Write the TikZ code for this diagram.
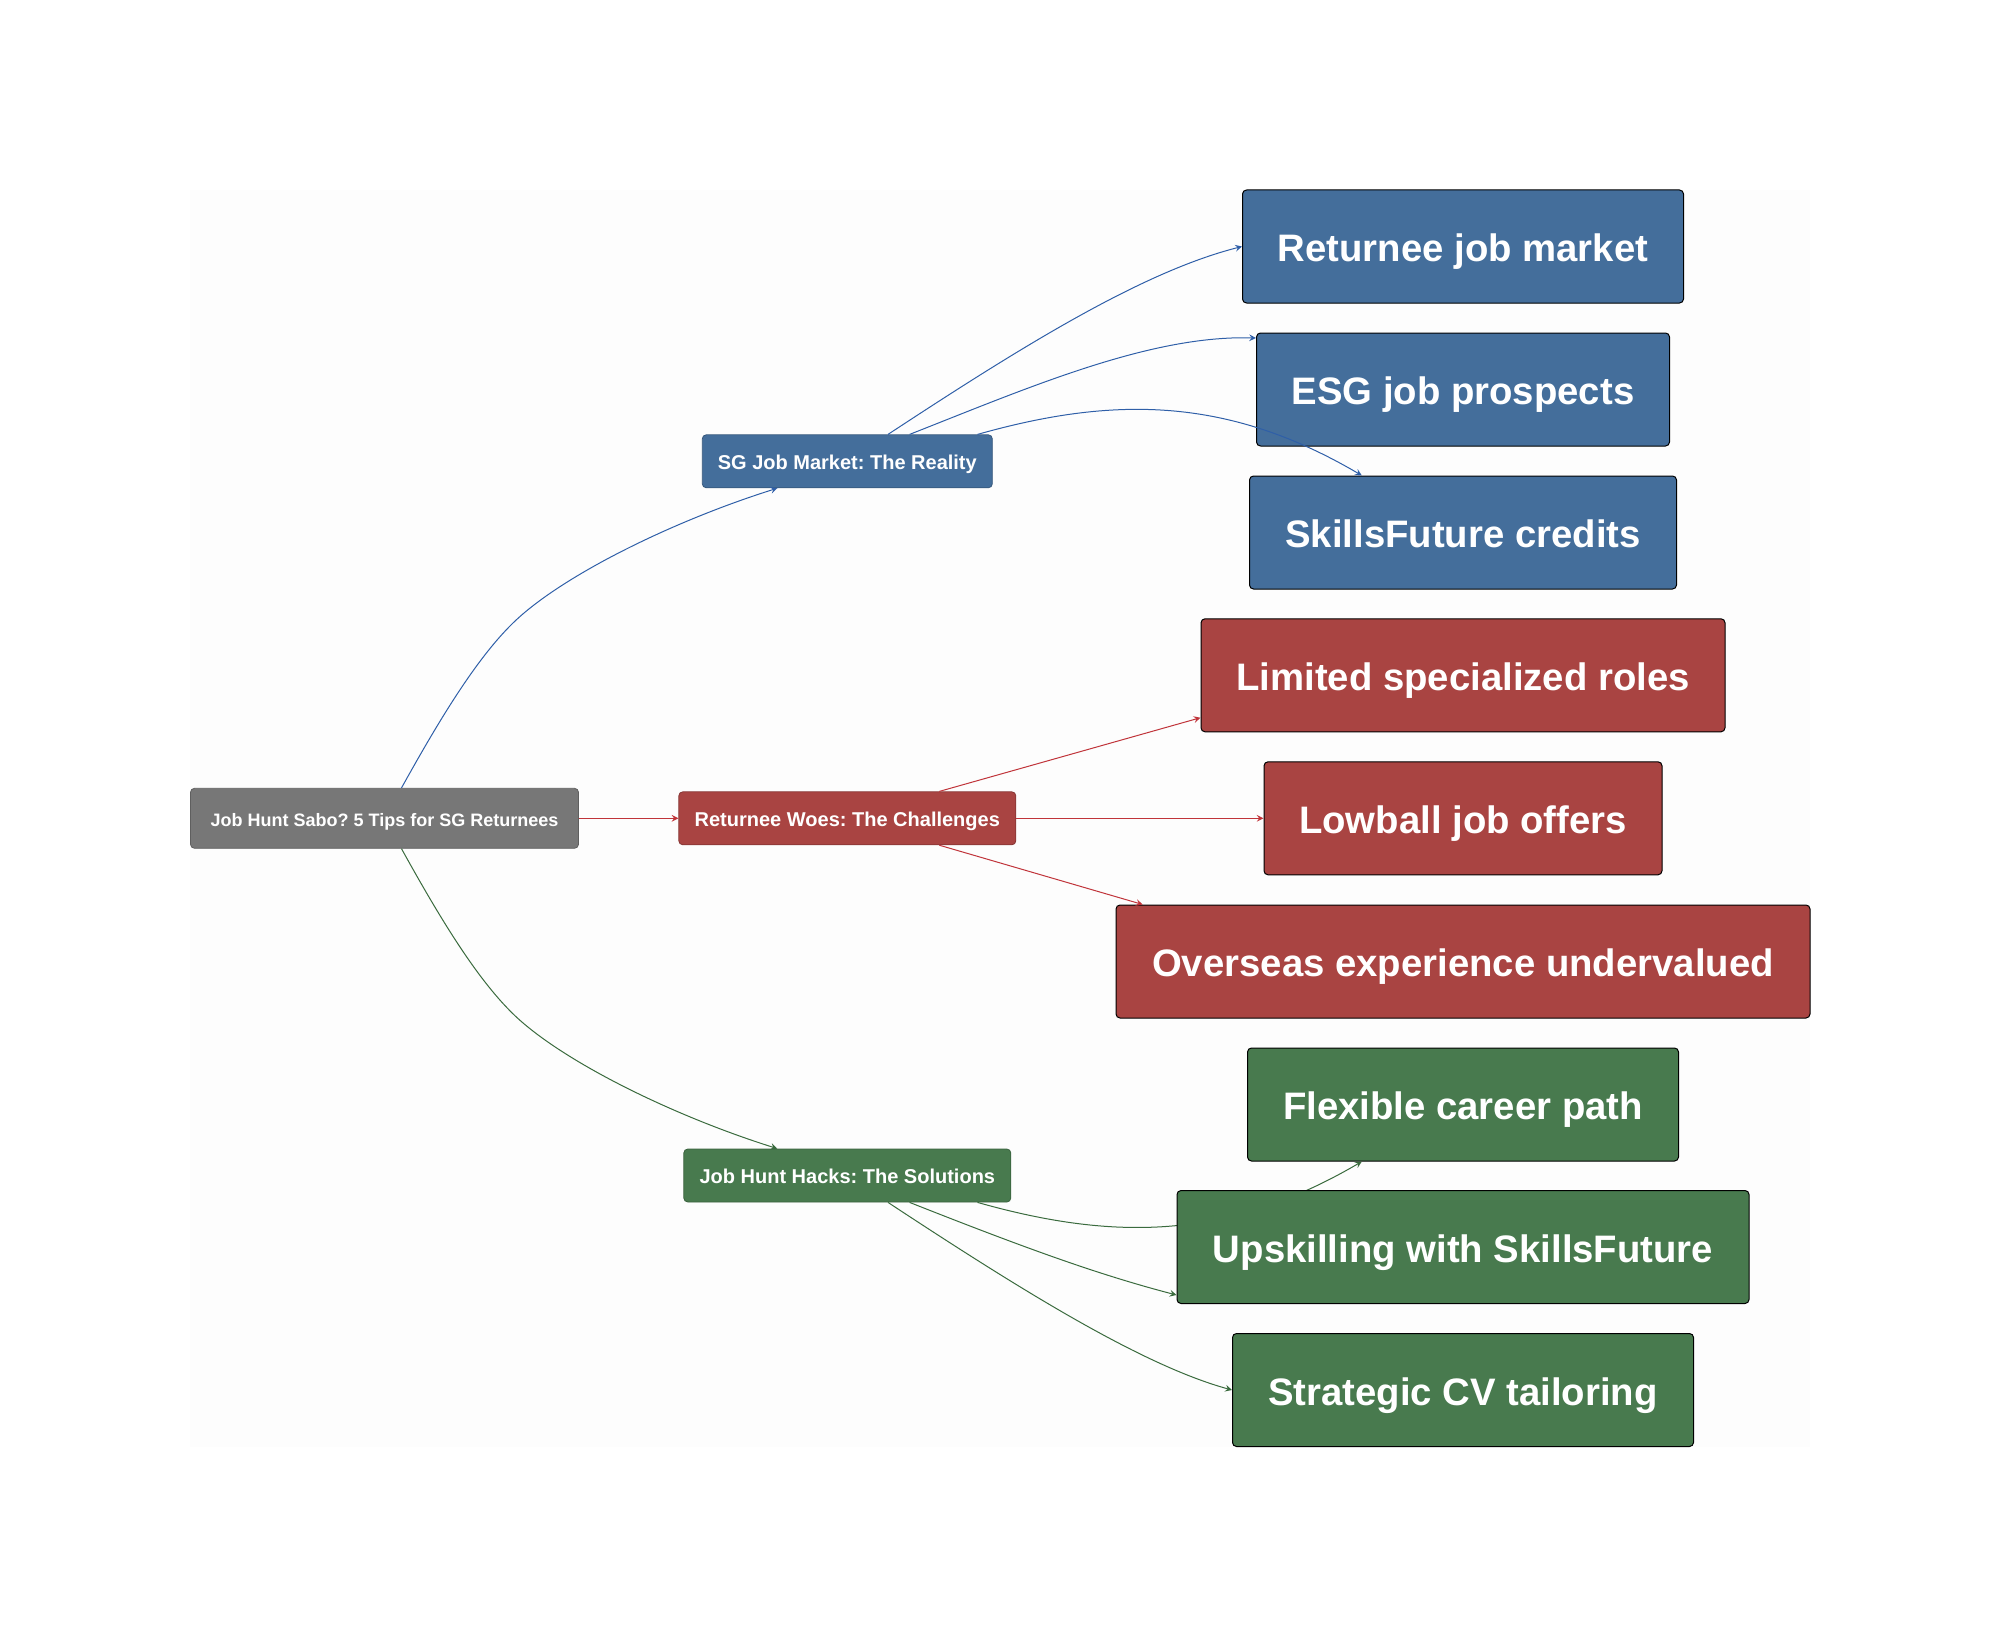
\documentclass[tikz,border=0pt]{standalone}
\usepackage{fontspec}
\setmainfont{Liberation Sans}
\frenchspacing
\definecolor{bgpage}{HTML}{FDFDFD}
\definecolor{rootgray}{HTML}{777777}
\definecolor{marketblue}{HTML}{446E9B}
\definecolor{woesred}{HTML}{A94442}
\definecolor{hacksgreen}{HTML}{487A4E}
\definecolor{edgeblue}{HTML}{2F5FA8}
\definecolor{edgered}{HTML}{C0343A}
\definecolor{edgegreen}{HTML}{3A6B3E}
\tikzset{
	smallbox/.style={rounded corners=2pt, inner sep=0pt, text=white, text depth=0pt, text height=7.7pt, font=\fontsize{10}{12}\selectfont\bfseries, minimum height=26.5pt},
	bigbox/.style={rounded corners=2pt, inner sep=0pt, text=white, text depth=0pt, text height=15.2pt, font=\fontsize{19.15}{23}\selectfont\bfseries, minimum height=56.5pt, draw=black, line width=0.5pt},
	link/.style={->, line width=0.5pt}
}
\begin{document}
\begin{tikzpicture} [x=0.5pt, y=-0.5pt, line join=round, >=stealth]
	\useasboundingbox (0,0) rectangle (2000,1637);
	\fill[bgpage] (190,190) rectangle (1810,1447);
	% first column
	\node[smallbox, fill=rootgray, draw=rootgray!80!black, minimum width=194pt, minimum height=30pt, font=\fontsize{9}{11}\selectfont\bfseries] (root) at (384.5,818.3) {Job Hunt Sabo? 5 Tips for SG Returnees};
	\node[smallbox, fill=marketblue, draw=marketblue!80!black, minimum width=145pt] (market) at (847.3,461.3) {SG Job Market: The Reality};
	\node[smallbox, fill=woesred, draw=woesred!80!black, minimum width=168.5pt] (woes) at (847.3,818.3) {Returnee Woes: The Challenges};
	\node[smallbox, fill=hacksgreen, draw=hacksgreen!80!black, minimum width=163.5pt] (hacks) at (847.3,1175.5) {Job Hunt Hacks: The Solutions};
	\draw[link, edgeblue] ([xshift=8.5pt]root.north) .. controls (437,724) and (475,660) .. (513,623) .. controls (560,577) and (670,522) .. ([xshift=-35pt]market.south);
	\draw[link, edgered] (root.east) -- (woes.west);
	\draw[link, edgegreen] ([xshift=8.5pt]root.south) .. controls (437,912.8) and (475,976.8) .. (513,1013.8) .. controls (560,1059.8) and (670,1114.8) .. ([xshift=-35pt]hacks.north);
	% blue column
	\node[bigbox, fill=marketblue, minimum width=220.5pt] (returnee) at (1463,246.5) {Returnee job market};
	\node[bigbox, fill=marketblue, minimum width=206.5pt] (esg) at (1463,389.5) {ESG job prospects};
	\node[bigbox, fill=marketblue, minimum width=213.5pt] (skills) at (1463,532.5) {SkillsFuture credits};
	\draw[link, edgeblue] ([xshift=20.35pt]market.north) .. controls (1018,349) and (1141,272) .. (returnee.west);
	\draw[link, edgeblue] ([xshift=31.15pt]market.north) .. controls (1030,387) and (1150,335) .. ([yshift=25.75pt]esg.west);
	\draw[link, edgeblue] ([xshift=65.1pt]market.north) .. controls (1110,397) and (1225,395) .. ([xshift=-50.6pt]skills.north);
	% red column
	\node[bigbox, fill=woesred, minimum width=262pt] (limited) at (1463,675.3) {Limited specialized roles};
	\node[bigbox, fill=woesred, minimum width=199pt] (lowball) at (1463,818.3) {Lowball job offers};
	\node[bigbox, fill=woesred, minimum width=347pt] (overseas) at (1463,961.5) {Overseas experience undervalued};
	\draw[link, edgered] ([xshift=46pt]woes.north) -- ([yshift=-21.2pt]limited.west);
	\draw[link, edgered] (woes.east) -- (lowball.west);
	\draw[link, edgered] ([xshift=46pt]woes.south) -- ([xshift=-160.15pt]overseas.north);
	% green column
	\node[bigbox, fill=hacksgreen, minimum width=215.5pt] (flexible) at (1463,1104.5) {Flexible career path};
	\draw[link, edgegreen] ([xshift=65.1pt]hacks.south) .. controls (1110,1239.8) and (1225,1241.8) .. ([xshift=-50.6pt]flexible.south);
	\node[bigbox, fill=hacksgreen, minimum width=286pt] (upskilling) at (1463,1247) {Upskilling with SkillsFuture};
	\node[bigbox, fill=hacksgreen, minimum width=230.5pt] (strategic) at (1463,1390) {Strategic CV tailoring};
	\draw[link, edgegreen] ([xshift=31.15pt]hacks.south) .. controls (1030,1250) and (1100,1275) .. ([yshift=-24pt]upskilling.west);
	\draw[link, edgegreen] ([xshift=20.35pt]hacks.south) .. controls (1018,1288) and (1141,1365) .. (strategic.west);
\end{tikzpicture}
\end{document}
